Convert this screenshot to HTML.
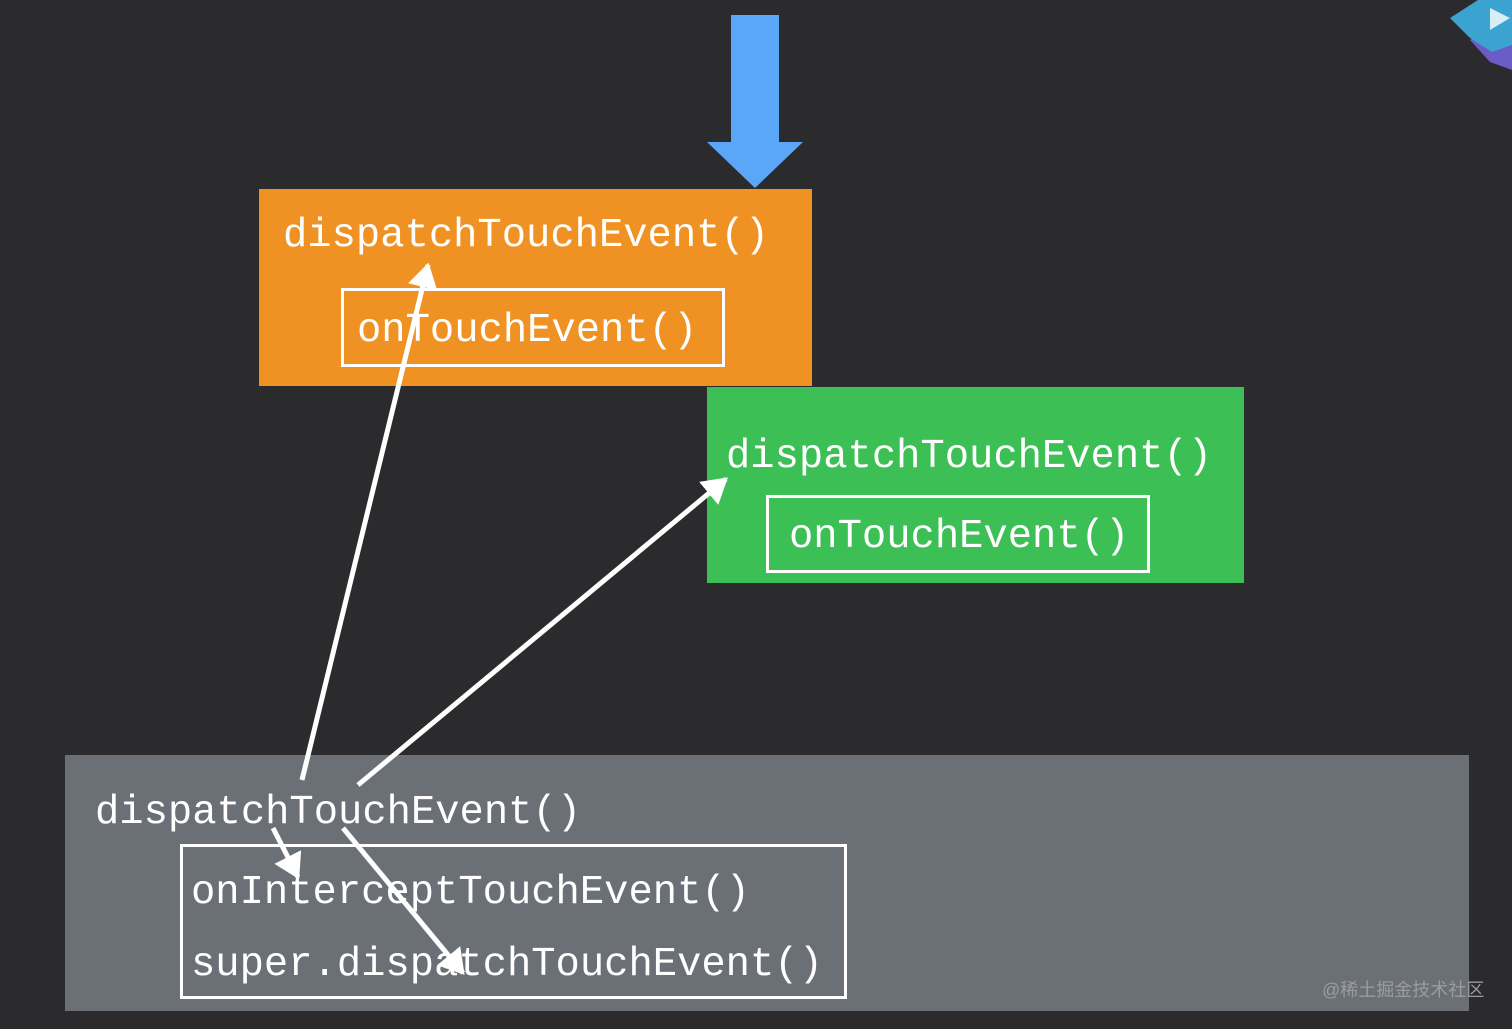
<!DOCTYPE html>
<html><head><meta charset="utf-8"><style>
html,body{margin:0;padding:0;background:#2b2b2e;}
svg{display:block}
text{font-family:"Liberation Mono","DejaVu Sans Mono",monospace;font-size:40.5px;fill:#fff;}
</style></head><body>
<svg width="1512" height="1029" viewBox="0 0 1512 1029" xmlns="http://www.w3.org/2000/svg">
<defs>
<marker id="ah" markerWidth="6" markerHeight="6" refX="4.5" refY="3" orient="auto" markerUnits="strokeWidth">
<path d="M0,0 L5,3 L0,6 Z" fill="#fff"/>
</marker>
</defs>
<rect width="1512" height="1029" fill="#2b2b2e"/>
<polygon points="1470,40 1512,10 1512,70 1490,62" fill="#6a5bc7"/>
<polygon points="1450,18 1478,0 1512,0 1512,45 1492,52 1470,38" fill="#3aa3cf"/>
<polygon points="1490,8 1510,18 1490,30" fill="#d8eef7"/>
<polygon points="731,15 779,15 779,142 803,142 755,188 707,142 731,142" fill="#5aa7f7"/>
<rect x="259" y="189" width="553" height="197" fill="#f09123"/>
<rect x="342.5" y="289.5" width="381" height="76" fill="none" stroke="#fff" stroke-width="3"/>
<text x="283" y="246">dispatchTouchEvent()</text>
<text x="357" y="341">onTouchEvent()</text>
<rect x="707" y="387" width="537" height="196" fill="#3cbf55"/>
<rect x="767.5" y="496.5" width="381" height="75" fill="none" stroke="#fff" stroke-width="3"/>
<text x="726" y="467">dispatchTouchEvent()</text>
<text x="789" y="547">onTouchEvent()</text>
<rect x="65" y="755" width="1404" height="256" fill="#6b6f76"/>
<rect x="181.5" y="845.5" width="664" height="152" fill="none" stroke="#fff" stroke-width="3"/>
<text x="95" y="823">dispatchTouchEvent()</text>
<text x="191" y="903">onInterceptTouchEvent()</text>
<text x="191" y="975">super.dispatchTouchEvent()</text>
<text x="1322" y="996" style="font-family:'Liberation Sans','Noto Sans CJK SC',sans-serif;font-size:18px;fill:#9a9ca0">@稀土掘金技术社区</text>
<g stroke="#fff" stroke-width="5" fill="none">
<line x1="302" y1="780" x2="428" y2="265" marker-end="url(#ah)"/>
<line x1="358" y1="785" x2="726" y2="479" marker-end="url(#ah)"/>
<line x1="273" y1="828" x2="298" y2="877" marker-end="url(#ah)"/>
<line x1="343" y1="828" x2="463" y2="973" marker-end="url(#ah)"/>
</g>
</svg>
</body></html>
